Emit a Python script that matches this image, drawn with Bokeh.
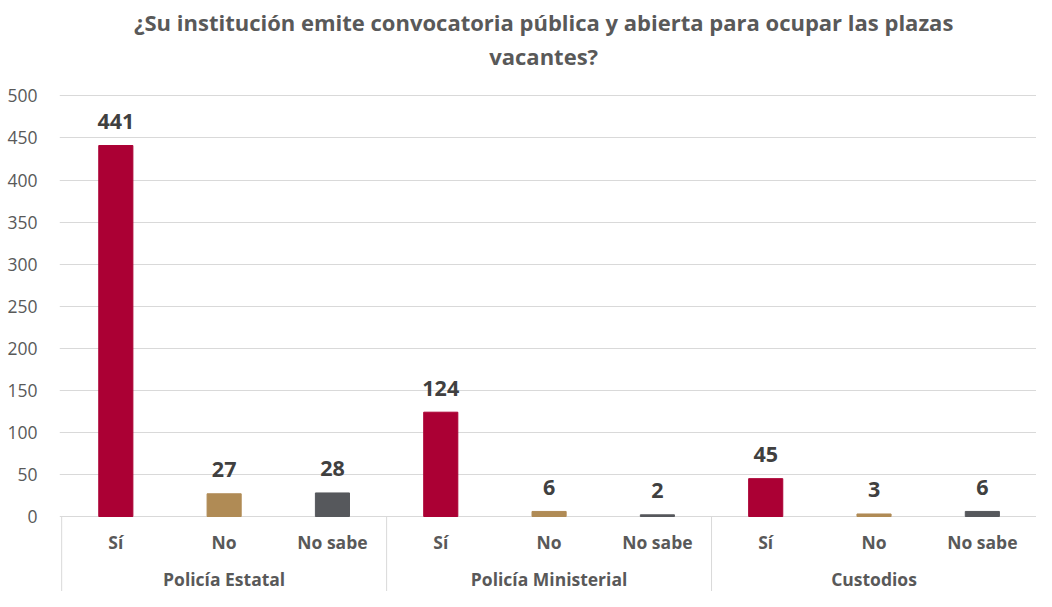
from bokeh.plotting import figure
from bokeh.models import Range1d, FixedTicker, ColumnDataSource
from bokeh.core.properties import value
from bokeh.embed import file_html
from bokeh.resources import INLINE

# ---- data ----
title_lines = ["¿Su institución emite convocatoria pública y abierta para ocupar las plazas",
               "vacantes?"]
groups = ["Policía Estatal", "Policía Ministerial", "Custodios"]
answers = ["Sí", "No", "No sabe"]
si = [441, 124, 45]
no = [27, 6, 3]
no_sabe = [28, 2, 6]
y_ticks = [0, 50, 100, 150, 200, 250, 300, 350, 400, 450, 500]

colors = {"Sí": "#AB0034", "No": "#B08B55", "No sabe": "#56585C"}
FONT = "Open Sans"
GRAY = "#595959"

# ---- layout constants (pixels from figure top) ----
W, H = 1036, 591
zero_px = 516.0
top500_px = 95.4
px_per_unit = (zero_px - top500_px) / 500
y_top = zero_px / px_per_unit
y_bot = -(H - zero_px) / px_per_unit


def py(pix):
    """figure pixel row -> data y"""
    return (zero_px - pix) / px_per_unit


p = figure(width=W, height=H, output_backend="svg", toolbar_location=None,
           x_range=Range1d(-0.02, 9.0), y_range=Range1d(y_bot, y_top),
           min_border_left=59, min_border_right=0, min_border_top=0, min_border_bottom=0)
p.outline_line_color = None
p.xaxis.visible = False
p.xgrid.visible = False
p.ygrid.ticker = FixedTicker(ticks=y_ticks)
p.ygrid.grid_line_color = "#D9D9D9"
p.ygrid.grid_line_width = 1
p.yaxis.ticker = FixedTicker(ticks=y_ticks)
p.yaxis.axis_line_color = None
p.yaxis.major_tick_line_color = None
p.yaxis.minor_tick_line_color = None
p.yaxis.major_label_standoff = 16
p.yaxis.major_label_text_font = FONT
p.yaxis.major_label_text_font_size = "17.5px"
p.yaxis.major_label_text_color = GRAY

series = {"Sí": si, "No": no, "No sabe": no_sabe}
xs, tops, cols, labs, sublabs = [], [], [], [], []
for g in range(len(groups)):
    for a, ans in enumerate(answers):
        xs.append(g * 3 + a + 0.5)
        tops.append(series[ans][g])
        cols.append(colors[ans])
        labs.append(str(series[ans][g]))
        sublabs.append(ans)

src = ColumnDataSource(dict(x=xs, top=tops, color=cols, lab=labs, sub=sublabs,
                            suby=[py(541)] * len(xs)))
p.vbar(x="x", top="top", bottom=0, width=0.315, color="color", source=src)
p.text(x="x", y="top", text="lab", source=src, text_align="center",
       text_baseline="alphabetic", y_offset=-24, text_font=value(FONT),
       text_font_style="bold", text_font_size="21.5px", text_color="#404040")

# category labels
p.text(x="x", y="suby", text="sub", source=src, text_align="center",
       text_baseline="middle", text_font=value(FONT), text_font_style="bold",
       text_font_size="17.5px", text_color=GRAY)
gsrc = ColumnDataSource(dict(x=[g * 3 + 1.5 for g in range(len(groups))],
                             y=[py(578)] * len(groups), t=groups))
p.text(x="x", y="y", text="t", source=gsrc, text_align="center",
       text_baseline="middle", text_font=value(FONT), text_font_style="bold",
       text_font_size="17.5px", text_color=GRAY)

# separators
sep_x = [g * 3 for g in range(len(groups) + 1)]
p.segment(x0=sep_x, x1=sep_x, y0=[0] * len(sep_x), y1=[y_bot - 10] * len(sep_x),
          line_color="#D9D9D9", line_width=1)

# title
tsrc = ColumnDataSource(dict(x=[4.45, 4.45], y=[py(21.5), py(55.5)], t=title_lines))
p.text(x="x", y="y", text="t", source=tsrc, text_align="center",
       text_baseline="middle", text_font=value(FONT), text_font_style="bold",
       text_font_size="22px", text_color=GRAY)

open("out.html", "w").write(file_html(p, INLINE))
